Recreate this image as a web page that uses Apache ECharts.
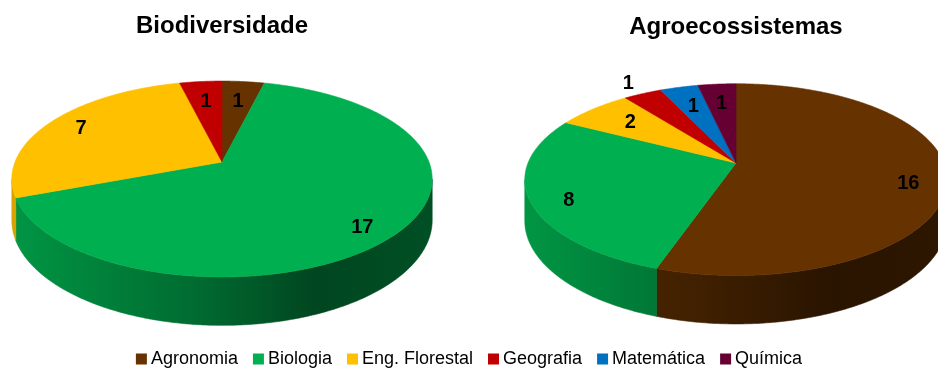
<!DOCTYPE html>
<html>
<head>
<meta charset="utf-8">
<script src="https://cdn.jsdelivr.net/npm/echarts@6/dist/echarts.min.js"></script>
<style>
html, body { margin: 0; padding: 0; background: #fff; }
#main { width: 938px; height: 370px; }
</style>
</head>
<body>
<div id="main"></div>
<script>
var pieTitles = ['Biodiversidade', 'Agroecossistemas'];
var categories = ['Agronomia', 'Biologia', 'Eng. Florestal', 'Geografia', 'Matemática', 'Química'];
var biodiversidade = [1, 17, 7, 1, 0, 0];
var agroecossistemas = [16, 8, 2, 1, 1, 1];
var colors = ['#663300', '#00B050', '#FFC000', '#C00000', '#0070C0', '#660033'];

// tilted pie geometry (apex, half width, half height), perspective, thickness
var pieGeo = [
    {cx: 222, cy: 162, w: 207, v: 95},
    {cx: 736, cy: 163, w: 208, v: 93}
];
var persp = 0.1736, depth = 40;
// labels that excel pushed outside the slice: pie index _ category index
var outsideLabels = {'1_3': true};
var fontFamily = "'Liberation Sans', Arial, sans-serif";

var allValues = [biodiversidade, agroecossistemas];

function sum(arr) {
    var s = 0;
    for (var i = 0; i < arr.length; i++) s += arr[i];
    return s;
}

function project(g, deg, f) {
    var t = deg * Math.PI / 180;
    var X = f * Math.sin(t), Z = f * Math.cos(t);
    var d = 1 + persp * Z;
    return [g.cx + g.w * X / d, g.cy - g.v * Z / d, d];
}

function shade(hex, k) {
    var r = parseInt(hex.substr(1, 2), 16), gg = parseInt(hex.substr(3, 2), 16), b = parseInt(hex.substr(5, 2), 16);
    return 'rgb(' + Math.round(r * k) + ',' + Math.round(gg * k) + ',' + Math.round(b * k) + ')';
}

var visStart = Math.acos(-persp) * 180 / Math.PI;
var visEnd = 360 - visStart;

var renderSlice = function (params, api) {
    var cat = params.seriesIndex, p = params.dataIndex;
    var vals = allValues[p];
    var val = api.value(0);
    if (!val) return;
    var total = sum(vals), before = sum(vals.slice(0, cat));
    var a0 = before / total * 360, a1 = (before + val) / total * 360;
    var g = pieGeo[p];
    var color = colors[cat];
    var children = [];

    // top face
    var top = [[g.cx, g.cy]];
    for (var a = a0; a < a1; a += 0.5) {
        var q = project(g, a, 1);
        top.push([q[0], q[1]]);
    }
    var qe = project(g, a1, 1);
    top.push([qe[0], qe[1]]);
    children.push({
        type: 'polygon', z2: 5,
        shape: {points: top},
        style: {fill: color, stroke: color, lineWidth: 0.6}
    });

    // front side
    var s = Math.max(a0, visStart), e = Math.min(a1, visEnd);
    if (s < e) {
        var upper = [], lower = [];
        var angs = [];
        for (var b = s; b < e; b += 0.5) angs.push(b);
        angs.push(e);
        for (var i = 0; i < angs.length; i++) {
            var r = project(g, angs[i], 1);
            upper.push([r[0], r[1]]);
            lower.unshift([r[0], r[1] + depth / r[2]]);
        }
        var grad = {
            type: 'linear', global: true,
            x: g.cx - g.w * 1.02, y: 0, x2: g.cx + g.w * 1.02, y2: 0,
            colorStops: [
                {offset: 0, color: shade(color, 0.85)},
                {offset: 0.45, color: shade(color, 0.6)},
                {offset: 0.72, color: shade(color, 0.4)},
                {offset: 1, color: shade(color, 0.45)}
            ]
        };
        children.push({
            type: 'polygon', z2: 1,
            shape: {points: upper.concat(lower)},
            style: {fill: grad, stroke: grad, lineWidth: 0.6}
        });
    }

    // value label
    var mid = (a0 + a1) / 2;
    var f = outsideLabels[p + '_' + cat] ? 1.18 : (val / total >= 0.2 ? 0.82 : 0.72);
    var lp = project(g, mid, f);
    var dy = Math.cos(mid * Math.PI / 180) < 0 ? 8 : 0;
    children.push({
        type: 'text', z2: 10,
        x: lp[0], y: lp[1] + dy,
        style: {
            text: String(val), fill: '#000',
            font: 'bold 20px ' + fontFamily,
            align: 'center', verticalAlign: 'middle'
        }
    });

    return {type: 'group', children: children};
};

var myChart = echarts.init(document.getElementById('main'));

var series = [];
for (var i = 0; i < categories.length; i++) {
    series.push({
        type: 'custom',
        name: categories[i],
        coordinateSystem: 'none',
        renderItem: renderSlice,
        itemStyle: {color: colors[i]},
        data: [biodiversidade[i], agroecossistemas[i]]
    });
}

var option = {
    animation: false,
    color: colors,
    title: [
        {
            text: pieTitles[0], left: 222, top: 14, padding: 0, textAlign: 'center',
            textStyle: {fontFamily: fontFamily, fontWeight: 'bold', fontSize: 24, color: '#000'}
        },
        {
            text: pieTitles[1], left: 736, top: 15, padding: 0, textAlign: 'center',
            textStyle: {fontFamily: fontFamily, fontWeight: 'bold', fontSize: 24, color: '#000'}
        }
    ],
    legend: {
        data: categories,
        left: 'center',
        top: 350,
        padding: 0,
        icon: 'rect',
        itemWidth: 11,
        itemHeight: 11,
        itemGap: 15,
        textStyle: {fontFamily: fontFamily, fontSize: 18, color: '#000', padding: [0, 0, 0, -1]}
    },
    series: series
};
myChart.setOption(option);
</script>
</body>
</html>
